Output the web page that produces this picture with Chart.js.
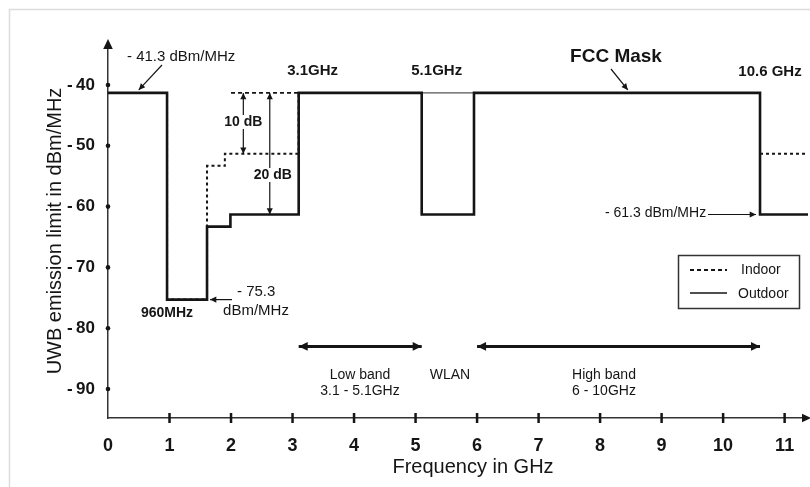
<!DOCTYPE html>
<html>
<head>
<meta charset="utf-8">
<script src="https://cdn.jsdelivr.net/npm/chart.js@4.4.0/dist/chart.umd.min.js"></script>
<style>
  html, body { margin: 0; padding: 0; background: #fff; }
</style>
</head>
<body>
<canvas id="mask" width="810" height="487"></canvas>
<script>
// UWB emission limits, frequency in GHz / level in dBm/MHz
const outdoorFreq  = [0, 0.96, 0.96, 1.61, 1.61, 1.99, 1.99, 3.1, 3.1, 5.1, 5.1, 5.95, 5.95, 10.6, 10.6, 11.38]
const outdoorLevel = [-41.3, -41.3, -75.3, -75.3, -63.3, -63.3, -61.3, -61.3, -41.3, -41.3, -61.3, -61.3, -41.3, -41.3, -61.3, -61.3]

const indoorFreq  = [0, 0.96, 0.96, 1.61, 1.61, 1.9, 1.9, 3.1, 3.1, 5.1, 7, 10.6, 11.38]
const indoorLevel = [-41.3, -41.3, -75.3, -75.3, -53.3, -53.3, -51.3, -51.3, -41.3, -41.3, null, -51.3, -51.3]

// FCC mask top across the WLAN notch
const maskFreq  = [5.1, 10.6]
const maskLevel = [-41.3, -41.3]

// dashed reference level for the 10 dB / 20 dB arrows
const refFreq  = [2.0, 3.1]
const refLevel = [-41.3, -41.3]

const xTicks = [0, 1, 2, 3, 4, 5, 6, 7, 8, 9, 10, 11]
const yTicks = [-40, -50, -60, -70, -80, -90]

const FONT = '"Liberation Sans", Arial, sans-serif'
const INK = '#151515'

function toPoints(xs, ys){
    return xs.map((x, i) => ({x: x, y: ys[i]}))
}

function arrowHead(ctx, x1, y1, x2, y2, size){
    const a = Math.atan2(y2 - y1, x2 - x1)
    ctx.beginPath()
    ctx.moveTo(x2, y2)
    ctx.lineTo(x2 - size * Math.cos(a - 0.45), y2 - size * Math.sin(a - 0.45))
    ctx.lineTo(x2 - size * Math.cos(a + 0.45), y2 - size * Math.sin(a + 0.45))
    ctx.closePath()
    ctx.fill()
}

function arrow(ctx, x1, y1, x2, y2, opts){
    const o = Object.assign({width: 1.2, head: 7, both: false}, opts)
    ctx.lineWidth = o.width
    ctx.beginPath()
    ctx.moveTo(x1, y1)
    ctx.lineTo(x2, y2)
    ctx.stroke()
    arrowHead(ctx, x1, y1, x2, y2, o.head)
    if (o.both) arrowHead(ctx, x2, y2, x1, y1, o.head)
}

function text(ctx, str, x, y, size, bold, align, bg){
    ctx.font = (bold ? 'bold ' : '') + size + 'px ' + FONT
    ctx.textAlign = align || 'center'
    ctx.textBaseline = 'middle'
    if (bg) {
        const w = ctx.measureText(str).width
        const left = ctx.textAlign === 'center' ? x - w / 2 : x
        ctx.fillStyle = '#fff'
        ctx.fillRect(left - 2, y - size / 2, w + 4, size)
    }
    ctx.fillStyle = INK
    ctx.fillText(str, x, y)
}

const annotate = {
    id: 'annotate',
    beforeDraw(chart){
        const ctx = chart.ctx
        ctx.save()
        ctx.strokeStyle = '#dcdcdc'
        ctx.lineWidth = 1.5
        ctx.beginPath()
        ctx.moveTo(9.5, 487)
        ctx.lineTo(9.5, 9.5)
        ctx.lineTo(810, 9.5)
        ctx.stroke()
        ctx.restore()
    },
    afterDraw(chart){
        const {ctx, chartArea: area, scales: {x, y}} = chart
        ctx.save()
        ctx.strokeStyle = INK
        ctx.fillStyle = INK

        // axis arrow heads
        arrowHead(ctx, area.left, area.top + 10, area.left, area.top - 3, 11)
        arrowHead(ctx, area.right - 10, area.bottom, area.right + 3, area.bottom, 10)

        // tick marks on x, dots on y
        ctx.lineWidth = 2.5
        xTicks.forEach(v => {
            if (v === 0) return
            const px = x.getPixelForValue(v)
            ctx.beginPath()
            ctx.moveTo(px, area.bottom - 5)
            ctx.lineTo(px, area.bottom + 5)
            ctx.stroke()
        })
        yTicks.forEach(v => {
            ctx.beginPath()
            ctx.arc(area.left, y.getPixelForValue(v), 2.3, 0, Math.PI * 2)
            ctx.fill()
        })

        const top = y.getPixelForValue(-41.3)

        // -41.3 dBm/MHz
        text(ctx, '- 41.3 dBm/MHz', 127, 57, 15, false, 'left')
        arrow(ctx, 162, 65, x.getPixelForValue(0.5), top - 3, {head: 7})

        text(ctx, '3.1GHz', x.getPixelForValue(3.1) + 14, 71, 15, true)
        text(ctx, '5.1GHz', x.getPixelForValue(5.1) + 15, 71, 15, true)
        text(ctx, '10.6 GHz', x.getPixelForValue(10.6) + 10, 72, 15, true)

        text(ctx, 'FCC Mask', 616, 57, 19, true)
        arrow(ctx, 611, 69, x.getPixelForValue(8.45), top - 3, {head: 7})

        // 10 dB / 20 dB steps
        const ax10 = x.getPixelForValue(2.2)
        arrow(ctx, ax10, top, ax10, y.getPixelForValue(-51.3), {both: true, head: 7})
        text(ctx, '10 dB', ax10, 122, 14, true, 'center', true)
        const ax20 = x.getPixelForValue(2.63)
        arrow(ctx, ax20, top, ax20, y.getPixelForValue(-61.3), {both: true, head: 7})
        text(ctx, '20 dB', ax20 + 3, 175, 14, true, 'center', true)

        // 960 MHz notch
        text(ctx, '960MHz', x.getPixelForValue(0.96), 313, 14, true)
        const low = y.getPixelForValue(-75.3)
        arrow(ctx, 232, low, x.getPixelForValue(1.61) + 3, low, {head: 7})
        text(ctx, '- 75.3', 237, 292, 15, false, 'left')
        text(ctx, 'dBm/MHz', 256, 311, 15, false)

        // -61.3 dBm/MHz
        const floor = y.getPixelForValue(-61.3)
        text(ctx, '- 61.3 dBm/MHz', 605, floor - 1, 14, false, 'left')
        arrow(ctx, 708, floor, x.getPixelForValue(10.6) - 4, floor, {head: 7})

        // bands
        const by = y.getPixelForValue(-83)
        arrow(ctx, x.getPixelForValue(3.1), by, x.getPixelForValue(5.1), by, {both: true, width: 3, head: 10})
        arrow(ctx, x.getPixelForValue(6), by, x.getPixelForValue(10.6), by, {both: true, width: 3, head: 10})
        text(ctx, 'Low band', 360, 375, 14, false)
        text(ctx, '3.1 - 5.1GHz', 360, 391, 14, false)
        text(ctx, 'WLAN', 450, 375, 14, false)
        text(ctx, 'High band', 604, 375, 14, false)
        text(ctx, '6 - 10GHz', 604, 391, 14, false)

        // legend
        ctx.lineWidth = 1.5
        ctx.strokeStyle = '#333'
        ctx.strokeRect(678.5, 255.5, 121, 53)
        ctx.strokeStyle = INK
        ctx.lineWidth = 2
        ctx.setLineDash([4, 3])
        ctx.beginPath()
        ctx.moveTo(690, 270)
        ctx.lineTo(727, 270)
        ctx.stroke()
        ctx.setLineDash([])
        ctx.lineWidth = 1.3
        ctx.beginPath()
        ctx.moveTo(690, 293)
        ctx.lineTo(727, 293)
        ctx.stroke()
        text(ctx, 'Indoor', 741, 270, 14, false, 'left')
        text(ctx, 'Outdoor', 738, 294, 14, false, 'left')

        // axis titles
        text(ctx, 'Frequency in GHz', 473, 467, 20, false)
        ctx.translate(55, 231)
        ctx.rotate(-Math.PI / 2)
        text(ctx, 'UWB emission limit in dBm/MHz', 0, 0, 20, false)
        ctx.restore()
    }
}

const ctx = document.getElementById('mask').getContext('2d')
const chart = new Chart(ctx, {
    type: 'line',
    data: {
        datasets: [
        {
            label: 'Indoor',
            data: toPoints(indoorFreq, indoorLevel),
            borderColor: INK,
            borderWidth: 2,
            borderDash: [3, 3],
            pointRadius: 0,
            order: 1
        },
        {
            label: 'Outdoor',
            data: toPoints(outdoorFreq, outdoorLevel),
            borderColor: INK,
            borderWidth: 2.6,
            pointRadius: 0,
            order: 2
        },
        {
            label: 'FCC Mask',
            data: toPoints(maskFreq, maskLevel),
            borderColor: '#555',
            borderWidth: 1.4,
            pointRadius: 0,
            order: 3
        },
        {
            label: 'Reference',
            data: toPoints(refFreq, refLevel),
            borderColor: INK,
            borderWidth: 1.6,
            borderDash: [4, 3],
            pointRadius: 0,
            order: 4
        }
        ]
    },
    options: {
        responsive: false,
        animation: false,
        spanGaps: false,
        layout: { padding: { top: 42, right: 2, left: 0, bottom: 0 } },
        plugins: {
            legend: { display: false },
            tooltip: { enabled: false }
        },
        scales: {
            x: {
                type: 'linear',
                min: 0,
                max: 11.38,
                afterFit: s => { s.height = 69 },
                afterBuildTicks: s => { s.ticks = xTicks.map(v => ({value: v})) },
                grid: { display: false },
                border: { display: true, color: '#333', width: 1.5 },
                ticks: {
                    padding: 9,
                    color: INK,
                    font: { family: FONT, size: 18, weight: 'bold' },
                    maxRotation: 0
                }
            },
            y: {
                type: 'linear',
                min: -94.77,
                max: -32.93,
                afterFit: s => { s.width = 108 },
                afterBuildTicks: s => { s.ticks = yTicks.map(v => ({value: v})) },
                grid: { display: false },
                border: { display: true, color: '#333', width: 1.5 },
                ticks: {
                    padding: 5,
                    color: INK,
                    font: { family: FONT, size: 17, weight: 'bold' },
                    callback: v => '-\u2009' + Math.abs(v)
                }
            }
        }
    },
    plugins: [annotate]
})
</script>
</body>
</html>
